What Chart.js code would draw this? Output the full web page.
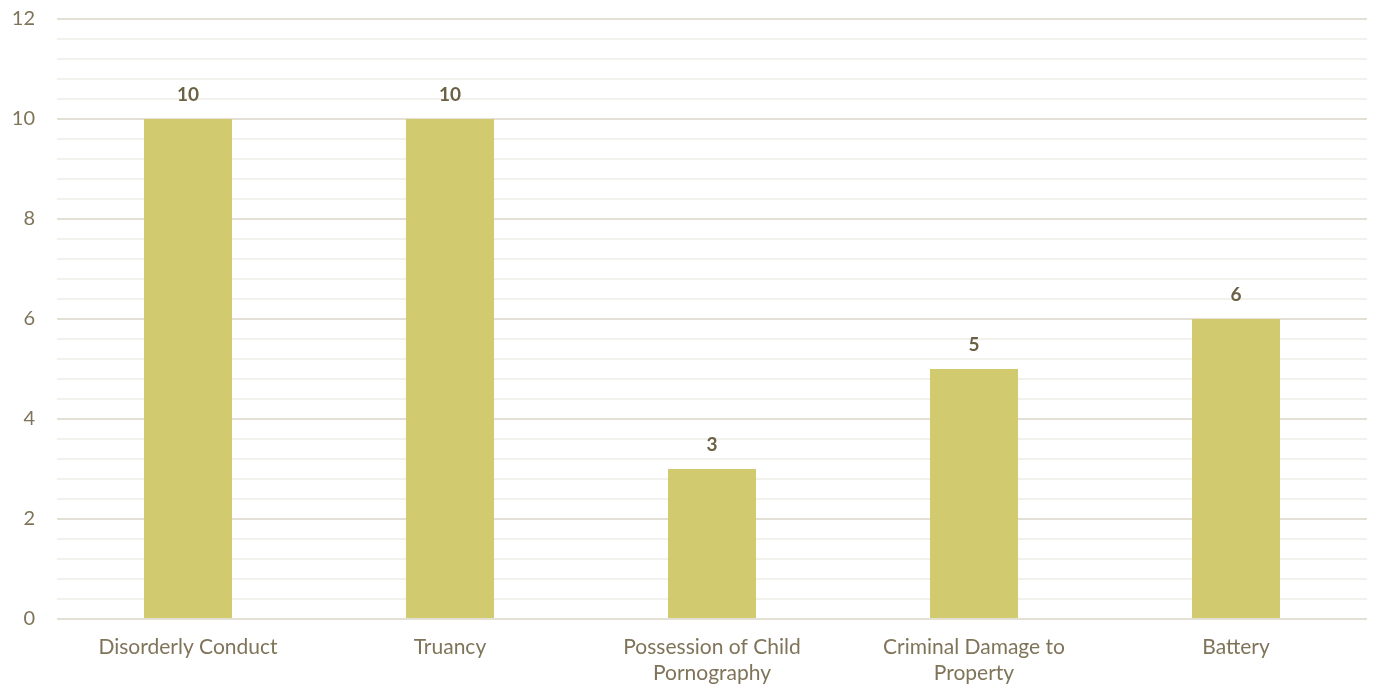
<html>
<head>
  <title>Offenses</title>
  <script src="https://cdn.jsdelivr.net/npm/chart.js"></script>
  <style>
    body { margin: 0; background: #fff; overflow: hidden; }
  </style>
</head>
<body>
  <canvas id="offenseChart" width="1378" height="684"></canvas>

  <script>
    const categories = [
      "Disorderly Conduct",
      "Truancy",
      ["Possession of Child", "Pornography"],
      ["Criminal Damage to", "Property"],
      "Battery"
    ];
    const counts = [10, 10, 3, 5, 6];
    const yMax = 12;

    const textColor = "#7F7459";
    const labelColor = "#6B6145";

    // draws the number above every bar
    const barLabels = {
      id: "barLabels",
      afterDatasetsDraw(chart) {
        const ctx = chart.ctx;
        const meta = chart.getDatasetMeta(0);
        ctx.save();
        ctx.font = "bold 19px Lato";
        ctx.fillStyle = labelColor;
        ctx.textAlign = "center";
        ctx.textBaseline = "middle";
        meta.data.forEach((bar, i) => {
          ctx.fillText(counts[i], bar.x, bar.y - 24);
        });
        ctx.restore();
      }
    };

    const isMajor = v => Math.abs(v / 2 - Math.round(v / 2)) < 1e-6;

    new Chart(document.getElementById("offenseChart"), {
      type: "bar",
      data: {
        labels: categories,
        datasets: [{
          data: counts,
          backgroundColor: "#D2CA6E",
          barPercentage: 0.336,
          categoryPercentage: 1
        }]
      },
      options: {
        responsive: false,
        animation: false,
        layout: { padding: { top: 19, right: 11, bottom: 0, left: 0 } },
        plugins: { legend: { display: false }, tooltip: { enabled: false } },
        scales: {
          x: {
            grid: { display: false, drawTicks: false },
            border: { display: false },
            ticks: {
              color: textColor,
              font: { family: "Lato", size: 21, lineHeight: 1.24 },
              padding: 15,
              maxRotation: 0,
              autoSkip: false
            },
            afterFit: s => { s.height = 65; s.paddingLeft = 0; s.paddingRight = 0; }
          },
          y: {
            min: 0,
            max: yMax,
            border: { display: false },
            grid: {
              drawTicks: false,
              color: ctx => isMajor(ctx.tick.value) ? "#E4E0D6" : "#F3F1EC",
              lineWidth: 2
            },
            ticks: {
              stepSize: 0.4,
              autoSkip: false,
              color: textColor,
              font: { family: "Lato", size: 20 },
              padding: 22,
              callback: v => isMajor(v) ? Math.round(v) : ""
            },
            afterFit: s => { s.width = 57; s.paddingTop = 0; s.paddingBottom = 0; }
          }
        }
      },
      plugins: [barLabels]
    });
  </script>
</body>
</html>
